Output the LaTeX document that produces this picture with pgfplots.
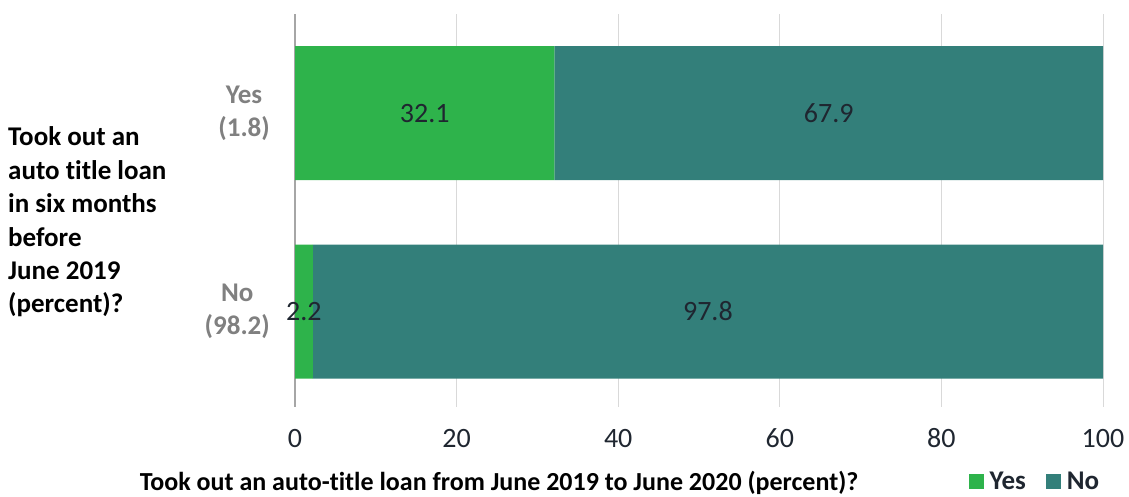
\documentclass[border=0pt]{standalone}
\usepackage{fontspec}
\setmainfont[Ligatures={NoCommon}]{Carlito}
\usepackage{pgfplots}
\pgfplotsset{compat=1.18}
\definecolor{cgreen}{HTML}{2EB34B}
\definecolor{cteal}{HTML}{337F7A}
\definecolor{cdark}{HTML}{1F2630}
\definecolor{cgraylab}{HTML}{808080}
\definecolor{cgrid}{HTML}{D9D9D9}
\definecolor{caxis}{HTML}{A6A6A6}
\begin{document}
\begin{tikzpicture}
\useasboundingbox (0pt,0pt) rectangle (1129pt,497pt);
\begin{axis}[
  at={(295pt,90pt)}, anchor=south west,
  scale only axis, width=808pt, height=393pt,
  xmin=0, xmax=100, ymin=-0.481, ymax=1.499,
  xbar stacked, bar width=0.675,
  axis y line*=left, axis x line*=bottom,
  x axis line style={draw=none},
  y axis line style={draw=caxis, line width=1.5pt},
  xtick={0,20,40,60,80,100},
  ytick={0,1},
  yticklabels={{No\\(98.2)},{Yes\\(1.8)}},
  major tick length=0pt,
  xmajorgrids, major grid style={draw=cgrid, line width=1pt},
  /pgf/number format/assume math mode=true,
  xticklabel style={font=\fontsize{28}{34}\selectfont, text=cdark, anchor=base, yshift=-41pt},
  yticklabel style={font=\bfseries\fontsize{27}{33}\selectfont, text=cgraylab, align=center, inner sep=0pt, xshift=-25pt},
  legend image code/.code={\fill[#1] (0pt,-7.5pt) rectangle (15pt,7.5pt);},
  legend columns=2,
  legend style={at={(0.9158,-0.1908)}, anchor=center, draw=none, fill=none,
    font=\bfseries\fontsize{27}{33}\selectfont, text=cdark,
    /tikz/every odd column/.append style={column sep=4pt},
    /tikz/every even column/.append style={column sep=18pt}},
]
\addplot[fill=cgreen, draw=none] coordinates {(2.2,0) (32.1,1)};
\addplot[fill=cteal, draw=none] coordinates {(97.8,0) (67.9,1)};
\legend{Yes,No}
\end{axis}
\begin{axis}[
  at={(295pt,90pt)}, anchor=south west,
  scale only axis, width=808pt, height=393pt,
  xmin=0, xmax=100, ymin=-0.481, ymax=1.499,
  hide axis,
]
\addplot[draw=none, mark=none, nodes near coords, point meta=explicit symbolic,
  every node near coord/.style={anchor=center, font=\fontsize{28}{34}\selectfont, text=cdark}]
  table[meta=label] {
x y label
16.05 1 32.1
66.05 1 67.9
1.1 0 2.2
51.1 0 97.8
};
\end{axis}
\node[anchor=west, align=left, font=\bfseries\fontsize{27}{33.4}\selectfont, inner sep=0pt] at (8pt,275pt)
  {Took out an\\auto title loan\\in six months\\before\\June 2019\\(percent)?};
\node[anchor=base, font=\bfseries\fontsize{26}{33}\selectfont, inner sep=0pt] at (499pt,6pt)
  {Took out an auto-title loan from June 2019 to June 2020 (percent)?};
\end{tikzpicture}
\end{document}
